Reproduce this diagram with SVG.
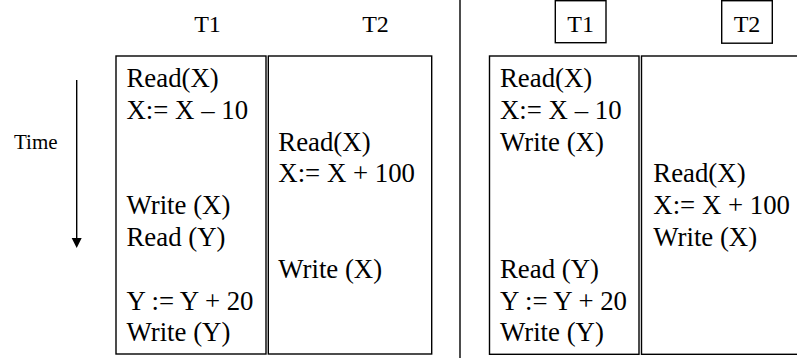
<svg xmlns="http://www.w3.org/2000/svg" width="797" height="358" viewBox="0 0 797 358">
<style>
text{font-family:'Liberation Serif','Times New Roman','DejaVu Serif',serif;fill:#000}
.t{font-size:26.8px}
.h{font-size:24px;text-anchor:middle}
.box{fill:none;stroke:#000;stroke-width:1.4}
.ln{stroke:#000;stroke-width:1.4}
</style>
<g id="time">
<text x="14" y="149" style="font-size:21px">Time</text>
</g>
<g id="connectors">
<line class="ln" x1="76.7" y1="80" x2="76.7" y2="240"/>
<polygon points="71.7,238 81.7,238 76.7,248" fill="#000"/>
<line class="ln" x1="460" y1="0" x2="460" y2="358"/>
</g>
<g id="left-headers">
<text class="h" x="207.5" y="32">T1</text>
<text class="h" x="375.5" y="32">T2</text>
</g>
<g id="left-t1">
<rect class="box" x="116" y="56" width="150" height="298"/>
<text class="t" x="126.5" y="87">Read(X)</text>
<text class="t" x="126.5" y="118.8">X:= X – 10</text>
<text class="t" x="126.5" y="214.2">Write (X)</text>
<text class="t" x="126.5" y="246">Read (Y)</text>
<text class="t" x="126.5" y="309.6">Y := Y + 20</text>
<text class="t" x="126.5" y="341.4">Write (Y)</text>
</g>
<g id="left-t2">
<rect class="box" x="268.3" y="56" width="163.4" height="298"/>
<text class="t" x="278.3" y="150.6">Read(X)</text>
<text class="t" x="278.3" y="182.4">X:= X + 100</text>
<text class="t" x="278.3" y="277.8">Write (X)</text>
</g>
<g id="right-headers">
<rect class="box" x="555.3" y="0.7" width="50.7" height="42"/>
<text class="h" x="580.6" y="32">T1</text>
<rect class="box" x="721.7" y="0.7" width="50.6" height="42.5"/>
<text class="h" x="747" y="32">T2</text>
</g>
<g id="right-t1">
<rect class="box" x="489.5" y="56" width="149.5" height="298.3"/>
<text class="t" x="500" y="87">Read(X)</text>
<text class="t" x="500" y="118.8">X:= X – 10</text>
<text class="t" x="500" y="150.6">Write (X)</text>
<text class="t" x="500" y="277.8">Read (Y)</text>
<text class="t" x="500" y="309.6">Y := Y + 20</text>
<text class="t" x="500" y="341.4">Write (Y)</text>
</g>
<g id="right-t2">
<rect class="box" x="641.5" y="56" width="170" height="298.3"/>
<text class="t" x="653.3" y="182.4">Read(X)</text>
<text class="t" x="653.3" y="214.2">X:= X + 100</text>
<text class="t" x="653.3" y="246">Write (X)</text>
</g>
</svg>
